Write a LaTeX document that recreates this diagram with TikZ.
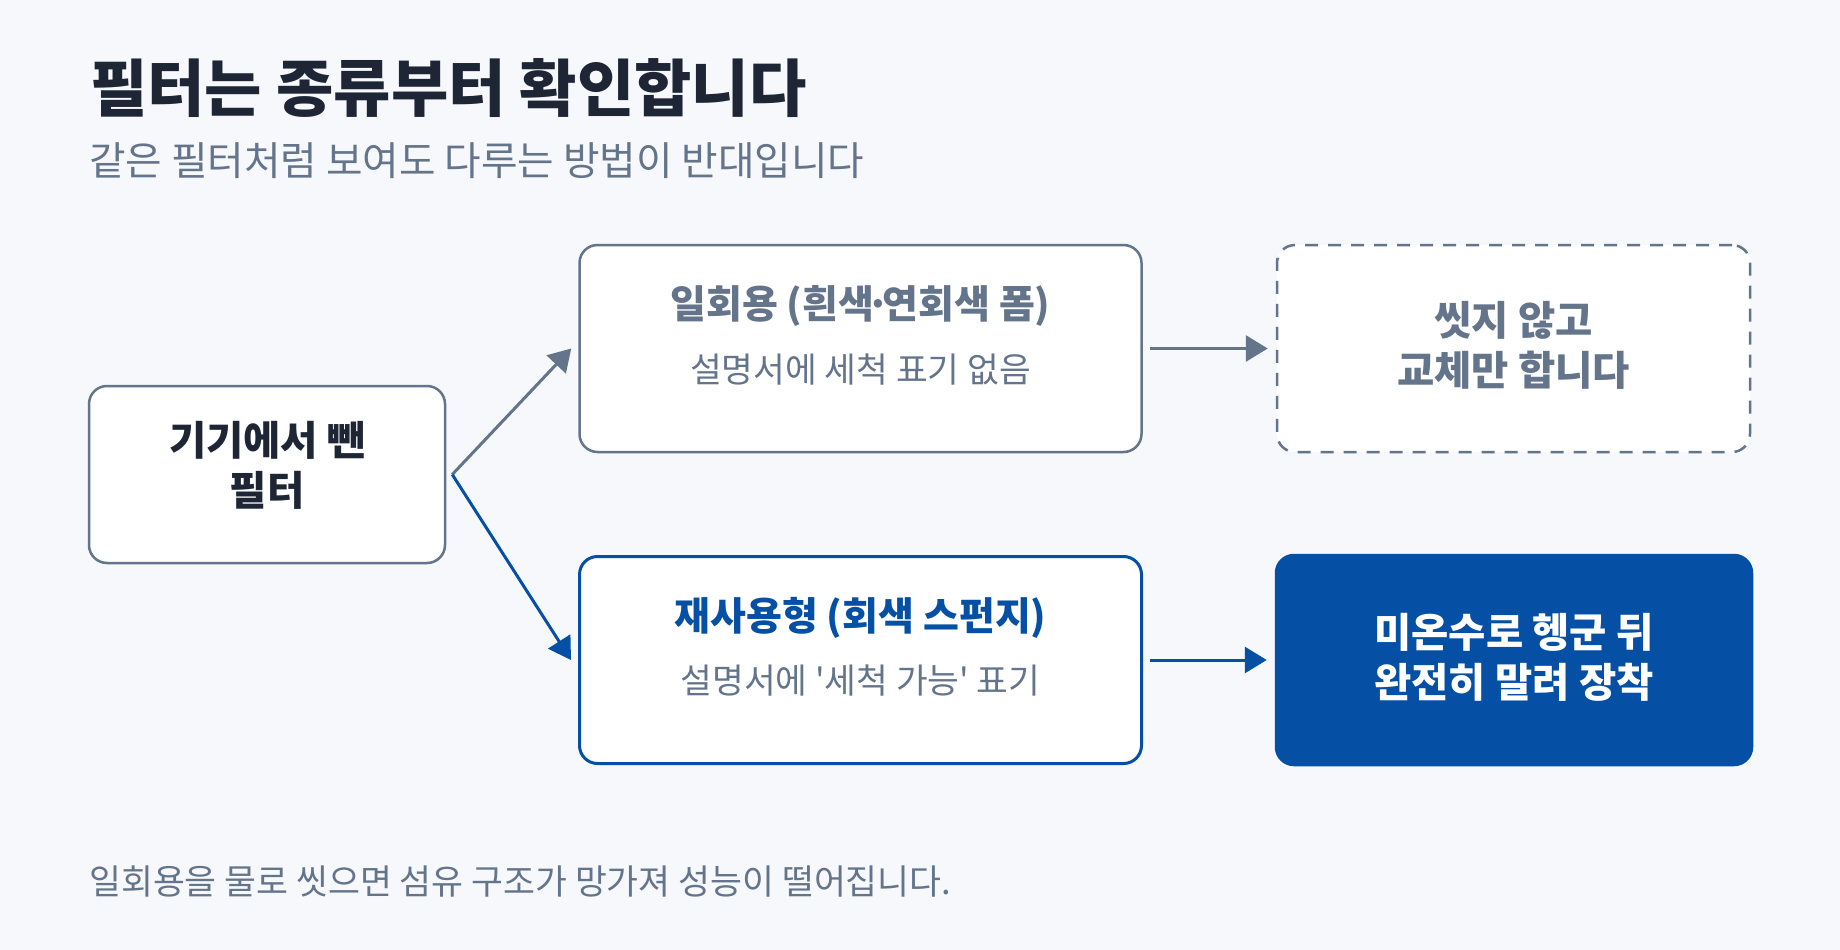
\documentclass[tikz,border=0pt]{standalone}
\usepackage{fontspec}
\newfontfamily\krfont{Noto Sans CJK KR}
\usetikzlibrary{arrows.meta,calc}
\definecolor{bg}{HTML}{F6F8FB}
\definecolor{ink}{HTML}{1E2635}
\definecolor{slate}{HTML}{64748B}
\definecolor{brand}{HTML}{0550A5}
\newcommand{\tightdot}{\kern-0.2em·\kern-0.2em}
\tikzset{
  card/.style={draw=slate, line width=2.5pt, fill=white, rounded corners=18pt, inner sep=0pt},
  ghost/.style={card, dash pattern=on 13pt off 10pt},
  bluecard/.style={card, draw=brand, line width=3pt},
  solidcard/.style={card, draw=brand, fill=brand},
  boxtext/.style={inner sep=0pt, align=center, font=\krfont\bfseries\fontsize{40.5}{50}\selectfont},
  headtext/.style={inner sep=0pt, anchor=base, font=\krfont\bfseries\fontsize{39}{44}\selectfont},
  subtext/.style={inner sep=0pt, anchor=base, text=slate, font=\krfont\fontsize{34.5}{40}\selectfont},
  link/.style={line width=3pt, -{Triangle[length=22pt,width=26pt]}},
}
\begin{document}
\begin{tikzpicture}[x=1pt,y=-1pt]
\fill[bg] (0,0) rectangle (1840,950);
\useasboundingbox (0,0) rectangle (1840,950);

\node[inner sep=0pt, anchor=base west, text=ink, font=\krfont\bfseries\fontsize{62.3}{70}\selectfont] (title) at (90,111.5) {필터는 종류부터 확인합니다};
\node[inner sep=0pt, anchor=base west, text=slate, font=\krfont\fontsize{39.7}{44}\selectfont] (subtitle) at (89,175) {같은 필터처럼 보여도 다루는 방법이 반대입니다};

\node[card, minimum width=356pt, minimum height=177pt] (src) at (267,474.5) {};
\node[card, minimum width=562pt, minimum height=207pt] (once) at (860.5,348.5) {};
\node[ghost, minimum width=473pt, minimum height=207pt] (swap) at (1513.5,348.5) {};
\node[bluecard, minimum width=562pt, minimum height=207pt] (reuse) at (860.5,660) {};
\node[solidcard, minimum width=476pt, minimum height=210pt] (wash) at (1514,660) {};

\node[boxtext, text=ink] (srctxt) at ($(src.center)+(0,-9.5)$) {기기에서 뺀\\필터};
\node[boxtext, text=slate] (swaptxt) at ($(swap.center)+(0,-3.5)$) {씻지 않고\\교체만 합니다};
\node[boxtext, text=white] (washtxt) at ($(wash.center)+(0,-2.5)$) {미온수로 헹군 뒤\\완전히 말려 장착};

\node[headtext, text=slate] (oncehead) at ($(once.north)+(0,75)$) {일회용 (흰색\tightdot 연회색 폼)};
\node[subtext] (oncesub) at ($(once.north)+(0,138.5)$) {설명서에 세척 표기 없음};
\node[headtext, text=brand] (reusehead) at ($(reuse.north)+(0,75)$) {재사용형 (회색 스펀지)};
\node[subtext] (reusesub) at ($(reuse.north)+(0,138.5)$) {설명서에 '세척 가능' 표기};

\coordinate (fork) at ($(src.east)+(6,0)$);
\draw[link, draw=slate, fill=slate] (fork) -- ($(once.west)+(-7,0)$);
\draw[link, draw=brand, fill=brand] (fork) -- ($(reuse.west)+(-7,0)$);
\draw[link, draw=slate, fill=slate] ($(once.east)+(7,0)$) -- ($(swap.west)+(-8,0)$);
\draw[link, draw=brand, fill=brand] ($(reuse.east)+(7,0)$) -- ($(wash.west)+(-8,0)$);

\node[inner sep=0pt, anchor=base west, text=slate, font=\krfont\fontsize{34.7}{40}\selectfont] (foot) at (89,894.5) {일회용을 물로 씻으면 섬유 구조가 망가져 성능이 떨어집니다.};
\end{tikzpicture}
\end{document}
